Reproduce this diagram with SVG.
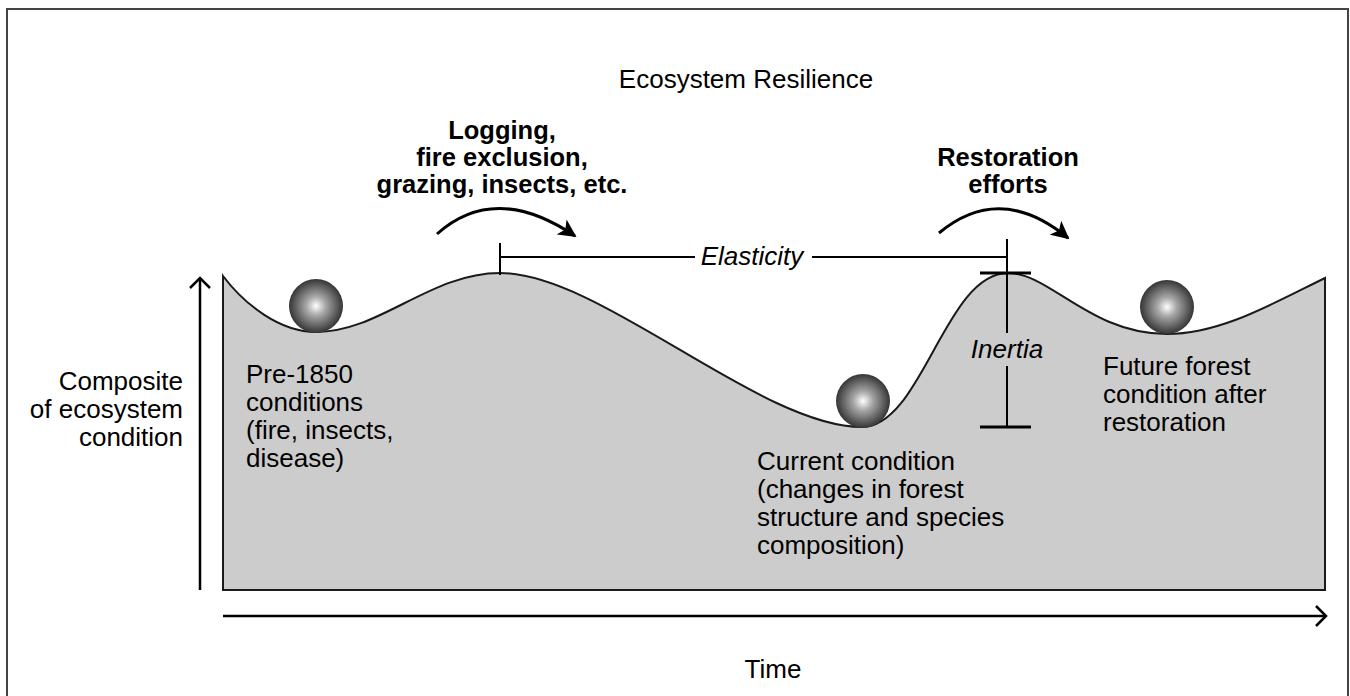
<svg xmlns="http://www.w3.org/2000/svg" width="1350" height="696" viewBox="0 0 1350 696">
<style>
.t{font-family:"Liberation Sans",Arial,sans-serif;font-size:26px;fill:#000}
.b{font-family:"Liberation Sans",Arial,sans-serif;font-size:25.5px;font-weight:bold;fill:#000}
.i{font-family:"Liberation Sans",Arial,sans-serif;font-size:26px;font-style:italic;fill:#000}
.ln{stroke:#000;stroke-width:2;fill:none}
.tk{stroke:#000;stroke-width:3;fill:none}
.arc{stroke:#000;stroke-width:3;fill:none;marker-end:url(#ah)}
.ax{stroke:#000;stroke-width:2.5;fill:none}
</style>
<defs>
<radialGradient id="ball" cx="0.5" cy="0.5" r="0.5">
<stop offset="0" stop-color="#ffffff"/>
<stop offset="0.35" stop-color="#a8a8a8"/>
<stop offset="1" stop-color="#353535"/>
</radialGradient>
<marker id="ah" viewBox="0 0 10 10" refX="9" refY="5" markerWidth="6" markerHeight="6" orient="auto" markerUnits="strokeWidth">
<path d="M0,0 L10,5 L0,10 L2.5,5 Z" fill="#000"/>
</marker>
</defs>
<rect x="7" y="9" width="1341" height="700" fill="none" stroke="#444" stroke-width="2"/>
<g id="landscape">
<path d="M223,276 C245,305 280,332 316,332 C380,332 430,273 500,273 C600,273 760,427 862,427 C922,427 945,273 1008,273 C1050,273 1090,334 1167,334 C1220,334 1270,305 1325,278 L1325,590 L223,590 Z" fill="#cccccc" stroke="#1a1a1a" stroke-width="2"/>
</g>
<g id="title"><text class="t" x="746" y="88" text-anchor="middle">Ecosystem Resilience</text></g>
<g id="ball-pre1850">
<circle cx="316" cy="306" r="27" fill="url(#ball)"/>
<text class="t" x="246" y="383">Pre-1850</text>
<text class="t" x="246" y="411">conditions</text>
<text class="t" x="246" y="439">(fire, insects,</text>
<text class="t" x="246" y="467">disease)</text>
</g>
<g id="ball-current">
<circle cx="863" cy="401" r="27" fill="url(#ball)"/>
<text class="t" x="757" y="470">Current condition</text>
<text class="t" x="757" y="498">(changes in forest</text>
<text class="t" x="757" y="526">structure and species</text>
<text class="t" x="757" y="554">composition)</text>
</g>
<g id="ball-future">
<circle cx="1167" cy="307" r="27" fill="url(#ball)"/>
<text class="t" x="1103" y="375">Future forest</text>
<text class="t" x="1103" y="403">condition after</text>
<text class="t" x="1103" y="431">restoration</text>
</g>
<g id="disturbance">
<text class="b" x="502" y="139" text-anchor="middle">Logging,</text>
<text class="b" x="502" y="166" text-anchor="middle">fire exclusion,</text>
<text class="b" x="502" y="193" text-anchor="middle">grazing, insects, etc.</text>
</g>
<g id="restoration">
<text class="b" x="1008" y="166" text-anchor="middle">Restoration</text>
<text class="b" x="1008" y="193" text-anchor="middle">efforts</text>
</g>
<g id="yaxis-label">
<text class="t" x="183" y="390" text-anchor="end">Composite</text>
<text class="t" x="183" y="418" text-anchor="end">of ecosystem</text>
<text class="t" x="183" y="446" text-anchor="end">condition</text>
</g>
<g id="xaxis-label"><text class="t" x="773" y="678" text-anchor="middle">Time</text></g>
<g id="connectors">
<path class="arc" d="M437,234 Q495,182 575,236"/>
<path class="arc" d="M939,233 Q1000,182 1068,238"/>
<line class="ln" x1="500" y1="243" x2="500" y2="275"/>
<line class="ln" x1="500" y1="257" x2="695" y2="257"/>
<line class="ln" x1="812" y1="257" x2="1007" y2="257"/>
<line class="ln" x1="1007" y1="239" x2="1007" y2="333"/>
<line class="ln" x1="1007" y1="366" x2="1007" y2="427"/>
<line class="tk" x1="980" y1="273" x2="1031" y2="273"/>
<line class="tk" x1="980" y1="427" x2="1031" y2="427"/>
<line class="ax" x1="200" y1="590" x2="200" y2="278"/>
<polyline class="ax" points="190,288 200,278 210,288"/>
<line class="ax" x1="223" y1="616" x2="1326" y2="616"/>
<polyline class="ax" points="1316,606 1326,616 1316,626"/>
</g>
<text class="i" x="752" y="265" text-anchor="middle">Elasticity</text>
<text class="i" x="1007" y="358" text-anchor="middle">Inertia</text>
</svg>
